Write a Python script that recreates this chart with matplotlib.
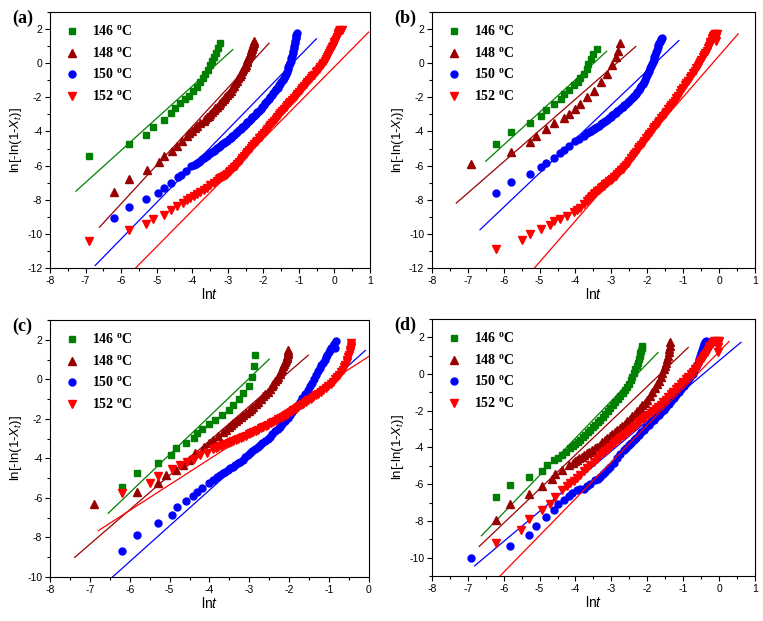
import matplotlib
matplotlib.use("Agg")
import matplotlib.pyplot as plt
from matplotlib.ticker import MultipleLocator

plt.rcParams['font.family'] = ['Liberation Sans', 'DejaVu Sans']
plt.rcParams['axes.unicode_minus'] = False
plt.rcParams['mathtext.fontset'] = 'custom'
plt.rcParams['mathtext.it'] = 'Liberation Sans:italic'
plt.rcParams['mathtext.rm'] = 'Liberation Sans'
plt.rcParams['mathtext.bf'] = 'Liberation Serif:bold'

temps = ["146", "148", "150", "152"]
colors = ["#008000", "#990000", "#0000FF", "#FF0000"]
markers = ["s", "^", "o", "v"]

# ---------------- panel (a) ----------------
a146_x = [-6.89, -5.79, -5.29, -5.11, -4.80, -4.59, -4.48, -4.33, -4.19, -4.08, -3.99, -3.86, -3.77, -3.70,
          -3.63, -3.56, -3.51, -3.44, -3.38, -3.32, -3.28, -3.23]
a146_y = [-5.45, -4.73, -4.18, -3.71, -3.30, -2.93, -2.62, -2.35, -2.09, -1.90, -1.65, -1.37, -1.12, -0.87,
          -0.63, -0.40, -0.14, 0.11, 0.34, 0.58, 0.87, 1.16]
a148_x = [-6.19, -5.79, -5.27, -4.93, -4.80, -4.57, -4.43, -4.29, -4.15, -4.08, -4.01, -3.93, -3.86, -3.77,
          -3.68, -3.58, -3.49, -3.40, -3.30, -3.21, -3.11, -3.02, -2.92, -2.83, -2.74, -2.67, -2.60, -2.53,
          -2.47, -2.42, -2.38, -2.34, -2.31, -2.28, -2.25,
          -3.63, -3.54, -3.45, -3.35, -3.26, -3.16, -3.07, -2.97, -2.88, -2.79, -2.70, -2.64, -2.57, -2.50,
          -2.45, -2.40, -2.36, -2.32, -2.30, -2.27]
a148_y = [-7.51, -6.79, -6.23, -5.78, -5.43, -5.12, -4.83, -4.53, -4.24, -4.10, -3.95, -3.80, -3.65, -3.50,
          -3.36, -3.16, -2.97, -2.76, -2.54, -2.32, -2.09, -1.85, -1.61, -1.32, -1.02, -0.75, -0.48, -0.22,
          0.05, 0.30, 0.54, 0.74, 0.93, 1.10, 1.28,
          -3.26, -3.07, -2.87, -2.65, -2.43, -2.21, -1.97, -1.73, -1.47, -1.17, -0.89, -0.62, -0.35, -0.09,
          0.18, 0.42, 0.64, 0.84, 1.02, 1.19]
a150_x = [-6.20, -5.79, -5.29, -4.95, -4.80, -4.59, -4.40, -4.31, -4.18, -4.03, -3.95, -3.86, -3.77, -3.68,
          -3.58, -3.49, -3.40, -3.30, -3.21, -3.11, -3.02, -2.92, -2.83, -2.74, -2.64, -2.55, -2.45, -2.36,
          -2.27, -2.17, -2.08, -1.99, -1.89, -1.80, -1.72, -1.64, -1.56, -1.49, -1.43, -1.37, -1.32, -1.27,
          -1.23, -1.20, -1.16, -1.13, -1.10, -1.08, -1.06,
          -3.90, -3.81, -3.72, -3.63, -3.54, -3.45, -3.35, -3.26, -3.16, -3.07, -2.97, -2.88, -2.78, -2.69,
          -2.60, -2.50, -2.41, -2.31, -2.22, -2.13, -2.03, -1.94, -1.85, -1.76, -1.68, -1.60, -1.53, -1.46,
          -1.40, -1.34, -1.30, -1.25, -1.21, -1.18, -1.14, -1.11, -1.09, -1.07]
a150_y = [-9.07, -8.43, -7.96, -7.57, -7.32, -6.99, -6.67, -6.52, -6.34, -6.03, -5.94, -5.83, -5.70, -5.56,
          -5.41, -5.27, -5.13, -4.98, -4.84, -4.68, -4.53, -4.37, -4.20, -4.02, -3.85, -3.65, -3.46, -3.26,
          -3.07, -2.87, -2.68, -2.45, -2.23, -2.00, -1.77, -1.54, -1.31, -1.08, -0.86, -0.63, -0.37, -0.11,
          0.15, 0.44, 0.73, 1.02, 1.32, 1.55, 1.77,
          -5.89, -5.77, -5.63, -5.49, -5.34, -5.20, -5.06, -4.91, -4.76, -4.61, -4.45, -4.29, -4.11, -3.94,
          -3.75, -3.56, -3.36, -3.17, -2.97, -2.78, -2.57, -2.34, -2.12, -1.89, -1.66, -1.43, -1.20, -0.97,
          -0.75, -0.50, -0.24, 0.02, 0.30, 0.59, 0.88, 1.17, 1.44, 1.66]
a152_x = [-6.89, -5.79, -5.29, -5.09, -4.80, -4.59, -4.43, -4.26, -4.15, -4.05, -3.96, -3.87, -3.77, -3.68,
          -3.58, -3.49, -3.40, -3.30, -3.21, -3.11, -3.02, -2.93, -2.83, -2.74, -2.64, -2.55, -2.45, -2.36,
          -2.26, -2.17, -2.08, -1.98, -1.89, -1.80, -1.70, -1.61, -1.52, -1.42, -1.33, -1.24, -1.14, -1.05,
          -0.95, -0.86, -0.76, -0.67, -0.57, -0.48, -0.40, -0.32, -0.25, -0.18, -0.12, -0.06, -0.02, 0.02,
          0.06, 0.09, 0.11, 0.13, 0.16, 0.20,
          -3.25, -3.16, -3.06, -2.97, -2.88, -2.78, -2.69, -2.59, -2.50, -2.40, -2.31, -2.21, -2.12, -2.03,
          -1.93, -1.84, -1.75, -1.65, -1.56, -1.47, -1.37, -1.28, -1.19, -1.09, -1.00, -0.90, -0.81, -0.71,
          -0.62, -0.52, -0.44, -0.36, -0.28, -0.21, -0.15, -0.09, -0.04, 0.00, 0.04]
a152_y = [-10.42, -9.79, -9.40, -9.11, -8.86, -8.62, -8.33, -8.16, -8.00, -7.87, -7.75, -7.66, -7.55, -7.42,
          -7.30, -7.15, -7.02, -6.87, -6.74, -6.61, -6.48, -6.29, -6.09, -5.89, -5.66, -5.44, -5.21, -4.98,
          -4.76, -4.53, -4.30, -4.08, -3.85, -3.62, -3.40, -3.17, -2.94, -2.71, -2.48, -2.25, -2.03, -1.80,
          -1.57, -1.35, -1.12, -0.89, -0.67, -0.44, -0.21, 0.02, 0.25, 0.48, 0.70, 0.93, 1.12, 1.32,
          1.51, 1.65, 1.78, 1.90, 1.93, 1.94,
          -6.80, -6.67, -6.54, -6.38, -6.19, -5.99, -5.77, -5.55, -5.32, -5.09, -4.87, -4.64, -4.41, -4.19,
          -3.96, -3.73, -3.51, -3.28, -3.05, -2.82, -2.59, -2.36, -2.14, -1.91, -1.68, -1.46, -1.23, -1.00,
          -0.78, -0.55, -0.32, -0.09, 0.13, 0.36, 0.59, 0.81, 1.02, 1.22, 1.41]
a_fit_x = [[-7.27, -2.86], [-6.61, -1.84], [-6.73, -0.51], [-5.60, 0.96]]
a_fit_y = [[-7.49, 0.79], [-9.60, 1.16], [-11.84, 1.42], [-12.0, 1.81]]

# ---------------- panel (b) ----------------
b146_x = [-6.21, -5.80, -5.28, -4.95, -4.81, -4.61, -4.40, -4.31, -4.18, -4.05, -3.93, -3.86, -3.77, -3.69,
          -3.64, -3.58, -3.50, -3.41]
b146_y = [-4.73, -4.04, -3.50, -3.07, -2.72, -2.39, -2.09, -1.80, -1.57, -1.31, -1.08, -0.88, -0.63, -0.34,
          -0.05, 0.25, 0.54, 0.81]
b148_x = [-6.90, -5.80, -5.28, -5.10, -4.81, -4.59, -4.33, -4.17, -4.00, -3.86, -3.67, -3.49, -3.30, -3.11,
          -2.97, -2.88, -2.81, -2.76]
b148_y = [-5.93, -5.21, -4.63, -4.24, -3.85, -3.52, -3.20, -2.97, -2.68, -2.39, -2.00, -1.61, -1.12, -0.63,
          -0.14, 0.34, 0.73, 1.16]
b150_x = [-6.21, -5.80, -5.28, -4.95, -4.81, -4.59, -4.42, -4.33, -4.18, -4.00, -3.90, -3.77, -3.68, -3.58,
          -3.49, -3.40, -3.30, -3.21, -3.12, -3.02, -2.93, -2.83, -2.74, -2.64, -2.55, -2.45, -2.36, -2.28,
          -2.20, -2.13, -2.06, -2.00, -1.94, -1.89, -1.84, -1.80, -1.76, -1.71, -1.67, -1.63, -1.60,
          -3.63, -3.54, -3.45, -3.35, -3.26, -3.17, -3.07, -2.98, -2.88, -2.79, -2.69, -2.60, -2.50, -2.41,
          -2.32, -2.24, -2.17, -2.10, -2.03, -1.97, -1.92, -1.87, -1.82, -1.78, -1.74, -1.69, -1.65, -1.62]
b150_y = [-7.61, -6.97, -6.48, -6.09, -5.82, -5.54, -5.27, -5.06, -4.84, -4.57, -4.46, -4.24, -4.11, -3.98,
          -3.85, -3.72, -3.59, -3.46, -3.30, -3.13, -2.97, -2.81, -2.64, -2.48, -2.29, -2.09, -1.90, -1.67,
          -1.44, -1.22, -0.96, -0.70, -0.44, -0.18, 0.08, 0.34, 0.63, 0.93, 1.15, 1.36, 1.47,
          -4.05, -3.92, -3.79, -3.66, -3.53, -3.38, -3.22, -3.05, -2.89, -2.73, -2.56, -2.39, -2.19, -2.00,
          -1.79, -1.56, -1.33, -1.09, -0.83, -0.57, -0.31, -0.05, 0.21, 0.48, 0.78, 1.04, 1.26, 1.42]
b152_x = [-6.21, -5.50, -5.28, -4.95, -4.70, -4.59, -4.42, -4.23, -4.05, -3.96, -3.86, -3.77, -3.67, -3.58,
          -3.49, -3.40, -3.30, -3.21, -3.12, -3.02, -2.93, -2.83, -2.74, -2.64, -2.55, -2.45, -2.36, -2.27,
          -2.17, -2.08, -1.99, -1.89, -1.80, -1.71, -1.61, -1.52, -1.43, -1.33, -1.24, -1.15, -1.05, -0.96,
          -0.87, -0.77, -0.68, -0.60, -0.52, -0.45, -0.38, -0.32, -0.26, -0.21, -0.17, -0.12, -0.07,
          -3.63, -3.54, -3.45, -3.35, -3.26, -3.17, -3.07, -2.98, -2.88, -2.79, -2.69, -2.60, -2.50, -2.41,
          -2.31, -2.22, -2.13, -2.03, -1.94, -1.85, -1.76, -1.66, -1.57, -1.48, -1.38, -1.29, -1.20, -1.10,
          -1.01, -0.92, -0.82, -0.73, -0.64, -0.56, -0.49, -0.42, -0.35, -0.29, -0.24, -0.19, -0.15, -0.10,
          -0.09, -0.08]
b152_y = [-10.87, -10.34, -9.99, -9.70, -9.44, -9.25, -9.11, -8.92, -8.72, -8.60, -8.47, -8.26, -8.04, -7.85,
          -7.65, -7.49, -7.32, -7.16, -7.00, -6.83, -6.67, -6.48, -6.28, -6.09, -5.83, -5.57, -5.31, -5.05,
          -4.79, -4.53, -4.27, -4.01, -3.75, -3.49, -3.23, -2.97, -2.71, -2.45, -2.19, -1.90, -1.60, -1.31,
          -1.02, -0.73, -0.44, -0.18, 0.08, 0.34, 0.60, 0.86, 1.12, 1.37, 1.61, 1.68, 1.71,
          -7.95, -7.75, -7.57, -7.41, -7.24, -7.08, -6.92, -6.75, -6.58, -6.38, -6.19, -5.96, -5.70, -5.44,
          -5.18, -4.92, -4.66, -4.40, -4.14, -3.88, -3.62, -3.36, -3.10, -2.84, -2.58, -2.32, -2.05, -1.75,
          -1.46, -1.17, -0.88, -0.59, -0.31, -0.05, 0.21, 0.47, 0.73, 0.99, 1.25, 1.49, 1.65, 1.70,
          1.50, 1.30]
b_fit_x = [[-6.50, -3.13], [-7.32, -2.32], [-6.66, -1.12], [-5.15, 0.53]]
b_fit_y = [[-5.74, 0.69], [-8.19, 0.97], [-9.75, 1.32], [-12.0, 1.71]]

# ---------------- panel (c) ----------------
c146_x = [-6.20, -5.81, -5.29, -4.96, -4.83, -4.60, -4.39, -4.31, -4.19, -4.02, -3.85, -3.69, -3.52, -3.40,
          -3.27, -3.15, -3.02, -2.94, -2.88, -2.85]
c146_y = [-5.43, -4.76, -4.25, -3.83, -3.46, -3.20, -2.95, -2.73, -2.51, -2.27, -2.05, -1.80, -1.55, -1.29,
          -1.01, -0.70, -0.33, 0.14, 0.65, 1.24]
c148_x = [-6.89, -5.81, -5.29, -5.09, -4.85, -4.66, -4.52, -4.35, -4.14, -4.02, -3.90, -3.78, -3.65, -3.52,
          -3.40, -3.28, -3.15, -3.02, -2.90, -2.77, -2.65, -2.54, -2.44, -2.35, -2.27, -2.21, -2.15, -2.10,
          -2.06, -2.04, -2.02,
          -3.58, -3.46, -3.34, -3.21, -3.08, -2.96, -2.83, -2.71, -2.60, -2.49, -2.40, -2.31, -2.24, -2.18,
          -2.12, -2.08, -2.05, -2.03]
c148_y = [-6.33, -5.71, -5.26, -4.84, -4.59, -4.33, -4.08, -3.74, -3.41, -3.24, -3.07, -2.86, -2.65, -2.43,
          -2.22, -2.01, -1.80, -1.59, -1.38, -1.13, -0.87, -0.62, -0.36, -0.11, 0.14, 0.40, 0.65, 0.86,
          1.07, 1.27, 1.46,
          -2.54, -2.33, -2.12, -1.90, -1.70, -1.49, -1.26, -1.00, -0.75, -0.49, -0.24, 0.02, 0.27, 0.52,
          0.76, 0.97, 1.17, 1.37]
c150_x = [-6.20, -5.81, -5.29, -4.95, -4.81, -4.59, -4.41, -4.31, -4.19, -4.02, -3.90, -3.81, -3.73, -3.60,
          -3.48, -3.35, -3.23, -3.10, -2.98, -2.85, -2.73, -2.60, -2.48, -2.35, -2.23, -2.10, -1.98, -1.85,
          -1.73, -1.60, -1.48, -1.37, -1.27, -1.19, -1.11, -1.04, -0.98, -0.90, -0.83,
          -3.67, -3.54, -3.42, -3.29, -3.17, -3.04, -2.92, -2.79, -2.67, -2.54, -2.42, -2.29, -2.17, -2.04,
          -1.92, -1.79, -1.67, -1.54, -1.43, -1.32, -1.23, -1.15, -1.08, -1.01, -0.95, -0.88, -0.86]
c150_y = [-8.69, -7.90, -7.29, -6.85, -6.48, -6.16, -5.91, -5.69, -5.52, -5.26, -5.08, -4.95, -4.84, -4.67,
          -4.50, -4.33, -4.17, -3.95, -3.74, -3.53, -3.32, -3.11, -2.90, -2.64, -2.39, -2.10, -1.80, -1.47,
          -1.13, -0.75, -0.36, 0.02, 0.40, 0.70, 0.99, 1.24, 1.49, 1.70, 1.92,
          -4.76, -4.59, -4.42, -4.25, -4.06, -3.85, -3.64, -3.43, -3.22, -3.01, -2.77, -2.52, -2.25, -1.95,
          -1.64, -1.30, -0.94, -0.56, -0.17, 0.21, 0.55, 0.85, 1.12, 1.37, 1.60, 1.80, 1.60]
c152_x = [-6.20, -5.50, -5.29, -4.95, -4.73, -4.56, -4.39, -4.23, -4.06, -3.90, -3.78, -3.65, -3.52, -3.40,
          -3.28, -3.15, -3.02, -2.90, -2.77, -2.65, -2.52, -2.40, -2.27, -2.15, -2.02, -1.90, -1.77, -1.65,
          -1.52, -1.40, -1.27, -1.15, -1.02, -0.90, -0.80, -0.69, -0.62, -0.56, -0.52, -0.48, -0.46, -0.44,
          -3.84, -3.71, -3.58, -3.46, -3.34, -3.21, -3.08, -2.96, -2.83, -2.71, -2.58, -2.46, -2.33, -2.21,
          -2.08, -1.96, -1.83, -1.71, -1.58, -1.46, -1.33, -1.21, -1.08, -0.96, -0.85, -0.74, -0.65, -0.59,
          -0.54, -0.50, -0.47, -0.45]
c152_y = [-5.77, -5.23, -4.88, -4.55, -4.35, -4.18, -4.01, -3.84, -3.71, -3.54, -3.44, -3.34, -3.24, -3.14,
          -3.03, -2.92, -2.79, -2.66, -2.54, -2.41, -2.29, -2.16, -2.03, -1.90, -1.74, -1.57, -1.40, -1.23,
          -1.07, -0.90, -0.73, -0.56, -0.35, -0.14, 0.11, 0.36, 0.61, 0.86, 1.11, 1.36, 1.60, 1.83,
          -3.49, -3.39, -3.29, -3.19, -3.08, -2.97, -2.85, -2.72, -2.60, -2.47, -2.35, -2.22, -2.09, -1.96,
          -1.82, -1.65, -1.48, -1.31, -1.15, -0.98, -0.81, -0.64, -0.45, -0.24, -0.01, 0.23, 0.48, 0.73,
          0.98, 1.23, 1.48, 1.71]
c_fit_x = [[-6.54, -2.50], [-7.38, -1.52], [-6.43, -0.09], [-6.79, 0.0]]
c_fit_y = [[-6.78, 1.02], [-9.01, 1.22], [-10.0, 1.46], [-7.66, 1.16]]

# ---------------- panel (d) ----------------
d146_x = [-6.21, -5.81, -5.29, -4.94, -4.80, -4.60, -4.49, -4.38, -4.27, -4.15, -4.01, -3.87, -3.73, -3.59,
          -3.45, -3.31, -3.17, -3.03, -2.89, -2.75, -2.63, -2.51, -2.42, -2.33, -2.27, -2.21, -2.17, -2.14,
          -4.08, -3.94, -3.80, -3.66, -3.52, -3.38, -3.24, -3.10, -2.96, -2.82, -2.69, -2.57, -2.46, -2.37,
          -2.30, -2.24, -2.19, -2.15]
d146_y = [-6.70, -6.06, -5.60, -5.27, -4.96, -4.68, -4.55, -4.41, -4.22, -4.04, -3.81, -3.59, -3.31, -3.04,
          -2.76, -2.49, -2.17, -1.85, -1.53, -1.21, -0.89, -0.56, -0.15, 0.26, 0.63, 0.99, 1.27, 1.54,
          -3.92, -3.70, -3.45, -3.17, -2.90, -2.62, -2.33, -2.01, -1.69, -1.37, -1.05, -0.72, -0.35, 0.05,
          0.45, 0.81, 1.13, 1.40]
d148_x = [-6.21, -5.81, -5.29, -4.94, -4.66, -4.57, -4.38, -4.19, -4.08, -3.96, -3.82, -3.68, -3.54, -3.40,
          -3.26, -3.12, -2.98, -2.84, -2.70, -2.56, -2.42, -2.28, -2.14, -2.00, -1.86, -1.72, -1.63, -1.54,
          -1.48, -1.42, -1.39, -1.37,
          -4.02, -3.89, -3.75, -3.61, -3.47, -3.33, -3.19, -3.05, -2.91, -2.77, -2.63, -2.49, -2.35, -2.21,
          -2.07, -1.93, -1.79, -1.67, -1.58, -1.51, -1.45, -1.40, -1.38]
d148_y = [-7.93, -7.07, -6.52, -6.11, -5.69, -5.45, -5.23, -4.96, -4.82, -4.68, -4.50, -4.32, -4.14, -3.95,
          -3.72, -3.49, -3.27, -3.04, -2.81, -2.58, -2.31, -2.03, -1.71, -1.39, -0.98, -0.56, -0.15, 0.26,
          0.62, 0.99, 1.36, 1.73,
          -4.75, -4.59, -4.41, -4.23, -4.05, -3.84, -3.61, -3.38, -3.16, -2.93, -2.70, -2.45, -2.17, -1.87,
          -1.55, -1.19, -0.77, -0.36, 0.06, 0.44, 0.81, 1.18, 1.55]
d150_x = [-6.90, -5.81, -5.29, -5.11, -4.82, -4.60, -4.49, -4.33, -4.18, -4.10, -3.96, -3.87, -3.77, -3.68,
          -3.59, -3.45, -3.31, -3.17, -3.03, -2.94, -2.84, -2.75, -2.66, -2.52, -2.38, -2.24, -2.10, -1.96,
          -1.82, -1.68, -1.54, -1.40, -1.26, -1.12, -0.98, -0.86, -0.74, -0.65, -0.56, -0.51, -0.46, -0.41,
          -0.37,
          -3.38, -3.24, -3.10, -2.59, -2.45, -2.31, -2.17, -2.03, -1.89, -1.75, -1.61, -1.47, -1.33, -1.19,
          -1.05, -0.92, -0.80, -0.70, -0.60, -0.53, -0.48, -0.43, -0.39]
d150_y = [-10.0, -9.36, -8.77, -8.26, -7.80, -7.43, -7.10, -6.88, -6.64, -6.48, -6.33, -6.28, -6.24, -6.12,
          -5.97, -5.79, -5.60, -5.33, -5.05, -4.82, -4.59, -4.37, -4.14, -3.87, -3.59, -3.32, -3.04, -2.77,
          -2.49, -2.22, -1.94, -1.62, -1.30, -0.98, -0.66, -0.34, -0.01, 0.40, 0.81, 1.13, 1.45, 1.64,
          1.82,
          -5.70, -5.47, -5.19, -4.01, -3.73, -3.46, -3.18, -2.91, -2.63, -2.36, -2.08, -1.78, -1.46, -1.14,
          -0.82, -0.50, -0.17, 0.20, 0.60, 0.97, 1.29, 1.55, 1.73]
d152_x = [-6.21, -5.51, -5.29, -4.94, -4.71, -4.57, -4.38, -4.24, -4.15, -4.05, -3.96, -3.87, -3.77, -3.68,
          -3.59, -3.49, -3.40, -3.31, -3.17, -3.03, -2.89, -2.75, -2.61, -2.47, -2.33, -2.19, -2.05, -1.91,
          -1.77, -1.63, -1.49, -1.35, -1.21, -1.07, -0.93, -0.79, -0.67, -0.56, -0.49, -0.42, -0.35, -0.28,
          -0.21, -0.14, -0.07, 0.00,
          -3.24, -3.10, -2.96, -2.82, -2.68, -2.54, -2.40, -2.26, -2.12, -1.98, -1.84, -1.70, -1.56, -1.42,
          -1.28, -1.14, -1.00, -0.86, -0.73, -0.61, -0.52, -0.45, -0.38, -0.31, -0.24, -0.17, -0.03, -0.03,
          -0.03]
d152_y = [-9.20, -8.50, -7.90, -7.40, -7.10, -6.70, -6.30, -6.10, -5.95, -5.80, -5.65, -5.50, -5.30, -5.10,
          -4.95, -4.80, -4.60, -4.40, -4.18, -3.95, -3.72, -3.49, -3.27, -3.04, -2.81, -2.58, -2.35, -2.12,
          -1.89, -1.66, -1.39, -1.11, -0.84, -0.56, -0.29, -0.01, 0.26, 0.53, 0.76, 0.99, 1.22, 1.45,
          1.64, 1.82, 1.82, 1.82,
          -4.29, -4.06, -3.83, -3.60, -3.38, -3.15, -2.92, -2.69, -2.46, -2.23, -2.00, -1.77, -1.52, -1.25,
          -0.97, -0.70, -0.42, -0.15, 0.12, 0.40, 0.64, 0.87, 1.10, 1.33, 1.54, 1.73, 1.20, 1.45,
          1.65]
d_fit_x = [[-6.62, -1.70], [-6.68, -0.86], [-6.81, 0.61], [-6.15, 0.28]]
d_fit_y = [[-8.81, 1.18], [-9.39, 1.45], [-10.45, 1.73], [-11.1, 1.78]]

panels = [
    dict(tag="(a)", pos=[0.0655, 0.568, 0.4195, 0.413], xlim=(-8, 1), ylim=(-12, 3),
         data=[(a146_x, a146_y), (a148_x, a148_y), (a150_x, a150_y), (a152_x, a152_y)],
         fx=a_fit_x, fy=a_fit_y),
    dict(tag="(b)", pos=[0.566, 0.568, 0.4235, 0.413], xlim=(-8, 1), ylim=(-12, 3),
         data=[(b146_x, b146_y), (b148_x, b148_y), (b150_x, b150_y), (b152_x, b152_y)],
         fx=b_fit_x, fy=b_fit_y),
    dict(tag="(c)", pos=[0.0655, 0.0709, 0.418, 0.4138], xlim=(-8, 0), ylim=(-10, 3),
         data=[(c146_x, c146_y), (c148_x, c148_y), (c150_x, c150_y), (c152_x, c152_y)],
         fx=c_fit_x, fy=c_fit_y),
    dict(tag="(d)", pos=[0.566, 0.0725, 0.4235, 0.4138], xlim=(-8, 1), ylim=(-11, 3),
         data=[(d146_x, d146_y), (d148_x, d148_y), (d150_x, d150_y), (d152_x, d152_y)],
         fx=d_fit_x, fy=d_fit_y),
]

msizes = [4.6, 5.2, 5.0, 5.2]

fig = plt.figure(figsize=(7.63, 6.21), dpi=100)
for p in panels:
    ax = fig.add_axes(p["pos"])
    handles = []
    for i in range(4):
        xs, ys = p["data"][i]
        h, = ax.plot(xs, ys, linestyle='none', marker=markers[i], ms=msizes[i],
                     color=colors[i], mec=colors[i], label=temps[i] + r" $^\mathbf{o}$C")
        handles.append(h)
        ax.plot(p["fx"][i], p["fy"][i], color=colors[i], lw=0.9)
    ax.set_xlim(*p["xlim"])
    ax.set_ylim(*p["ylim"])
    ax.xaxis.set_major_locator(MultipleLocator(1))
    ax.xaxis.set_minor_locator(MultipleLocator(0.5))
    ax.yaxis.set_major_locator(MultipleLocator(2))
    ax.yaxis.set_minor_locator(MultipleLocator(1))
    ax.tick_params(which='both', direction='out', top=False, right=False, labelsize=7.5,
                   width=0.8, pad=2)
    ax.tick_params(which='major', length=3.5)
    ax.tick_params(which='minor', length=2)
    for s in ax.spines.values():
        s.set_linewidth(0.8)
    ax.set_xlabel(r"ln$t$", fontsize=10, labelpad=1)
    ax.set_ylabel(r"ln[-ln(1-$X_t$)]", fontsize=9.5, labelpad=2)
    ax.legend(handles=handles, loc='upper left', bbox_to_anchor=(0.030, 0.973),
              frameon=False, handlelength=1.0, handletextpad=0.94, labelspacing=0.49,
              borderaxespad=0.0, prop={'family': 'Liberation Serif', 'weight': 'bold', 'size': 10})
    x0, y0 = p["pos"][0], p["pos"][1] + p["pos"][3]
    fig.text(x0 - 0.049, y0 - 0.01, p["tag"], fontsize=13, fontweight='bold',
             family='Liberation Serif', ha='left', va='center')

fig.savefig("out.png", dpi=100)
